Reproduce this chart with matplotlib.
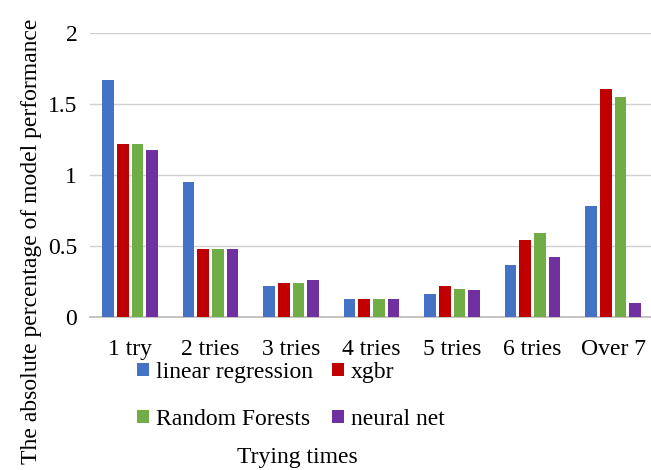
import matplotlib
matplotlib.use("Agg")
import matplotlib.pyplot as plt
import numpy as np

categories = ["1 try", "2 tries", "3 tries", "4 tries", "5 tries", "6 tries", "Over 7"]
series_names = ["linear regression", "xgbr", "Random Forests", "neural net"]
linear_regression = [1.67, 0.95, 0.22, 0.13, 0.16, 0.37, 0.78]
xgbr = [1.22, 0.48, 0.24, 0.13, 0.22, 0.54, 1.61]
random_forests = [1.22, 0.48, 0.24, 0.13, 0.20, 0.59, 1.55]
neural_net = [1.18, 0.48, 0.26, 0.13, 0.19, 0.42, 0.10]
colors = ["#4472C4", "#C00000", "#70AD47", "#7030A0"]
y_ticks = [0, 0.5, 1, 1.5, 2]
y_tick_labels = ["0", "0.5", "1", "1.5", "2"]

plt.rcParams["font.family"] = ["Liberation Serif", "DejaVu Serif"]
FS = 17

fig = plt.figure(figsize=(6.51, 4.70), dpi=100)
ax = fig.add_axes([0.1379, 0.3255, 0.8656, 0.6035])

x = np.arange(len(categories))
pitch = 0.1826
width = 0.145
all_series = [linear_regression, xgbr, random_forests, neural_net]
handles = []
for i, (vals, name, c) in enumerate(zip(all_series, series_names, colors)):
    h = ax.bar(x + (i - 1.5) * pitch, vals, width, color=c, label=name, zorder=3)
    handles.append(h)

ax.set_xlim(-0.5, len(categories) - 0.5)
ax.set_ylim(0, 2)
ax.set_yticks(y_ticks)
ax.set_yticklabels(y_tick_labels)
ax.set_xticks(x)
ax.set_xticklabels(categories)
ax.tick_params(axis="both", length=0, labelsize=FS, colors="black")
ax.tick_params(axis="x", pad=16)
ax.tick_params(axis="y", pad=9)

ax.grid(axis="y", color="#d0d0d0", linewidth=1.0, zorder=0)
for s in ["top", "right", "left"]:
    ax.spines[s].set_visible(False)
ax.spines["bottom"].set_color("#bfbfbf")
ax.spines["bottom"].set_linewidth(1.3)

fig.text(32 / 651, 1 - 241 / 470, "The absolute percentage of model performance",
         rotation=90, ha="center", va="center", fontsize=FS)
fig.text(297 / 651, 1 - 457 / 470, "Trying times", ha="center", va="center", fontsize=FS)

# legend fills column-first; order handles so rows read left to right
order = [0, 2, 1, 3]
leg = fig.legend(handles=[handles[k] for k in order],
                 labels=[series_names[k] for k in order], ncol=2,
                 loc="upper left", bbox_to_anchor=(137 / 651, 1 - 362 / 470),
                 frameon=False, fontsize=FS, handlelength=0.5, handleheight=0.5,
                 handletextpad=0.3, columnspacing=0.8, labelspacing=1.1,
                 borderaxespad=0, borderpad=0)

fig.savefig("out.png", dpi=100)
